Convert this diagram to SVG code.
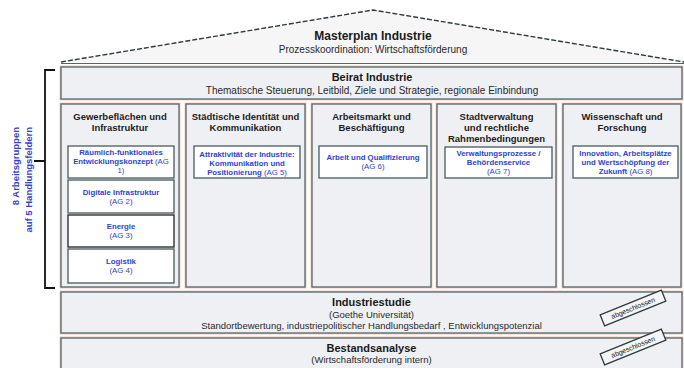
<svg xmlns="http://www.w3.org/2000/svg" width="684" height="368" viewBox="0 0 684 368">
<style>
  text { font-family: "Liberation Sans", Arial, sans-serif; }
  .box { fill: #eef0f3; stroke: #55656a; stroke-width: 1.3; }
  .sub { fill: #ffffff; stroke: #4a5a5e; stroke-width: 1.3; }
  .halo { fill: none; stroke: #f2cdbb; stroke-width: 3; }
  .h1 { font-size: 12px; font-weight: bold; fill: #1a1a1a; text-anchor: middle; }
  .h2 { font-size: 10px; fill: #2a2a2a; text-anchor: middle; }
  .ct { font-size: 9.5px; font-weight: bold; fill: #1e1e1e; text-anchor: middle; }
  .st { font-size: 7.8px; font-weight: bold; fill: #2f45d2; text-anchor: middle; }
  .ag { font-weight: normal; }
  .side { font-size: 9.5px; font-weight: bold; fill: #3346d1; text-anchor: end; }
  .stamp { fill: #f4f5f7; stroke: #2f3a3c; stroke-width: 1.3; }
  .stt { font-size: 7px; fill: #1a1a1a; text-anchor: middle; }
</style>

<g id="roof">
  <polygon points="61,62 373,10 684,62" fill="#f6f6f7" stroke="none"/>
  <polyline points="61,62 373,10 684,62" fill="none" stroke="#2e3a3c" stroke-width="1.4" stroke-dasharray="5,2"/>
  <line x1="61" y1="63.5" x2="684" y2="63.5" stroke="#55656a" stroke-width="1.2"/>
  <text class="h1" x="373" y="40">Masterplan Industrie</text>
  <text class="h2" x="373" y="53">Prozesskoordination: Wirtschaftsförderung</text>
</g>

<g id="beirat">
  <rect class="halo" x="61" y="67" width="621" height="32"/>
  <rect class="box" x="61" y="67" width="621" height="32"/>
  <text class="h1" x="372" y="81" style="font-size:11px">Beirat Industrie</text>
  <text class="h2" x="372" y="94">Thematische Steuerung, Leitbild, Ziele und Strategie, regionale Einbindung</text>
</g>

<g id="bracket">
  <path d="M55,70 H45 V288 H55 M45,161 H34" fill="none" stroke="#111" stroke-width="1.8"/>
  <text class="side" transform="translate(19,127) rotate(-90)">8 Arbeitsgruppen</text>
  <text class="side" transform="translate(32,127) rotate(-90)">auf 5 Handlungsfeldern</text>
</g>

<g id="col1">
  <rect class="halo" x="61" y="104" width="118" height="183"/>
  <rect class="box" x="61" y="104" width="118" height="183"/>
  <text class="ct" x="120" y="119.5">Gewerbeflächen und</text>
  <text class="ct" x="120" y="131">Infrastruktur</text>
  <rect class="sub" x="68" y="146" width="106" height="32"/>
  <text class="st" x="121" y="155">Räumlich-funktionales</text>
  <text class="st" x="121" y="164">Entwicklungskonzept <tspan class="ag">(AG</tspan></text>
  <text class="st" x="121" y="173"><tspan class="ag">1)</tspan></text>
  <rect class="sub" x="68" y="180" width="106" height="33"/>
  <text class="st" x="121" y="195">Digitale Infrastruktur</text>
  <text class="st" x="121" y="204"><tspan class="ag">(AG 2)</tspan></text>
  <rect class="sub" x="68" y="215" width="106" height="32" style="stroke:#222"/>
  <text class="st" x="121" y="229">Energie</text>
  <text class="st" x="121" y="238"><tspan class="ag">(AG 3)</tspan></text>
  <rect class="sub" x="68" y="249" width="106" height="34"/>
  <text class="st" x="121" y="264">Logistik</text>
  <text class="st" x="121" y="273"><tspan class="ag">(AG 4)</tspan></text>
</g>

<g id="col2">
  <rect class="halo" x="186" y="104" width="119" height="183"/>
  <rect class="box" x="186" y="104" width="119" height="183"/>
  <text class="ct" x="245.5" y="119.5">Städtische Identität und</text>
  <text class="ct" x="245.5" y="131">Kommunikation</text>
  <rect class="sub" x="194" y="146" width="106" height="32"/>
  <text class="st" x="247" y="157">Attraktivität der Industrie:</text>
  <text class="st" x="247" y="166">Kommunikation und</text>
  <text class="st" x="247" y="175">Positionierung <tspan class="ag">(AG 5)</tspan></text>
</g>

<g id="col3">
  <rect class="halo" x="312" y="104" width="119" height="183"/>
  <rect class="box" x="312" y="104" width="119" height="183"/>
  <text class="ct" x="371.5" y="119.5">Arbeitsmarkt und</text>
  <text class="ct" x="371.5" y="131">Beschäftigung</text>
  <rect class="sub" x="319" y="146" width="108" height="32"/>
  <text class="st" x="373" y="160">Arbeit und Qualifizierung</text>
  <text class="st" x="373" y="169"><tspan class="ag">(AG 6)</tspan></text>
</g>

<g id="col4">
  <rect class="halo" x="437" y="104" width="119" height="183"/>
  <rect class="box" x="437" y="104" width="119" height="183"/>
  <text class="ct" x="496.5" y="119.5">Stadtverwaltung</text>
  <text class="ct" x="496.5" y="130.5">und rechtliche</text>
  <text class="ct" x="496.5" y="141.5">Rahmenbedingungen</text>
  <rect class="sub" x="445" y="147" width="107" height="31"/>
  <text class="st" x="498.5" y="156">Verwaltungsprozesse /</text>
  <text class="st" x="498.5" y="165">Behördenservice</text>
  <text class="st" x="498.5" y="174"><tspan class="ag">(AG 7)</tspan></text>
</g>

<g id="col5">
  <rect class="halo" x="563" y="104" width="118" height="183"/>
  <rect class="box" x="563" y="104" width="118" height="183"/>
  <text class="ct" x="622" y="119.5">Wissenschaft und</text>
  <text class="ct" x="622" y="131">Forschung</text>
  <rect class="sub" x="573" y="146" width="105" height="32"/>
  <text class="st" x="625.5" y="156">Innovation, Arbeitsplätze</text>
  <text class="st" x="625.5" y="165">und Wertschöpfung der</text>
  <text class="st" x="625.5" y="174">Zukunft <tspan class="ag">(AG 8)</tspan></text>
</g>

<g id="industriestudie">
  <rect class="halo" x="61" y="292" width="621" height="41"/>
  <rect class="box" x="61" y="292" width="621" height="41"/>
  <text class="h1" x="371.5" y="306" style="font-size:11px">Industriestudie</text>
  <text class="h2" x="371.5" y="318" style="font-size:9.5px">(Goethe Universität)</text>
  <text class="h2" x="371.5" y="329" style="font-size:9.5px">Standortbewertung, industriepolitischer Handlungsbedarf , Entwicklungspotenzial</text>
  <g transform="translate(633,308) rotate(-22)">
    <rect class="stamp" x="-33" y="-6" width="66" height="12"/>
    <text class="stt" x="0" y="2.5">abgeschlossen</text>
  </g>
</g>

<g id="bestandsanalyse">
  <rect class="halo" x="61" y="338" width="621" height="34"/>
  <rect class="box" x="61" y="338" width="621" height="34"/>
  <text class="h1" x="371.5" y="352" style="font-size:11px">Bestandsanalyse</text>
  <text class="h2" x="371.5" y="363" style="font-size:9.5px">(Wirtschaftsförderung intern)</text>
  <g transform="translate(633,347) rotate(-22)">
    <rect class="stamp" x="-33" y="-6" width="66" height="12"/>
    <text class="stt" x="0" y="2.5">abgeschlossen</text>
  </g>
</g>

<g id="connectors"></g>
</svg>
